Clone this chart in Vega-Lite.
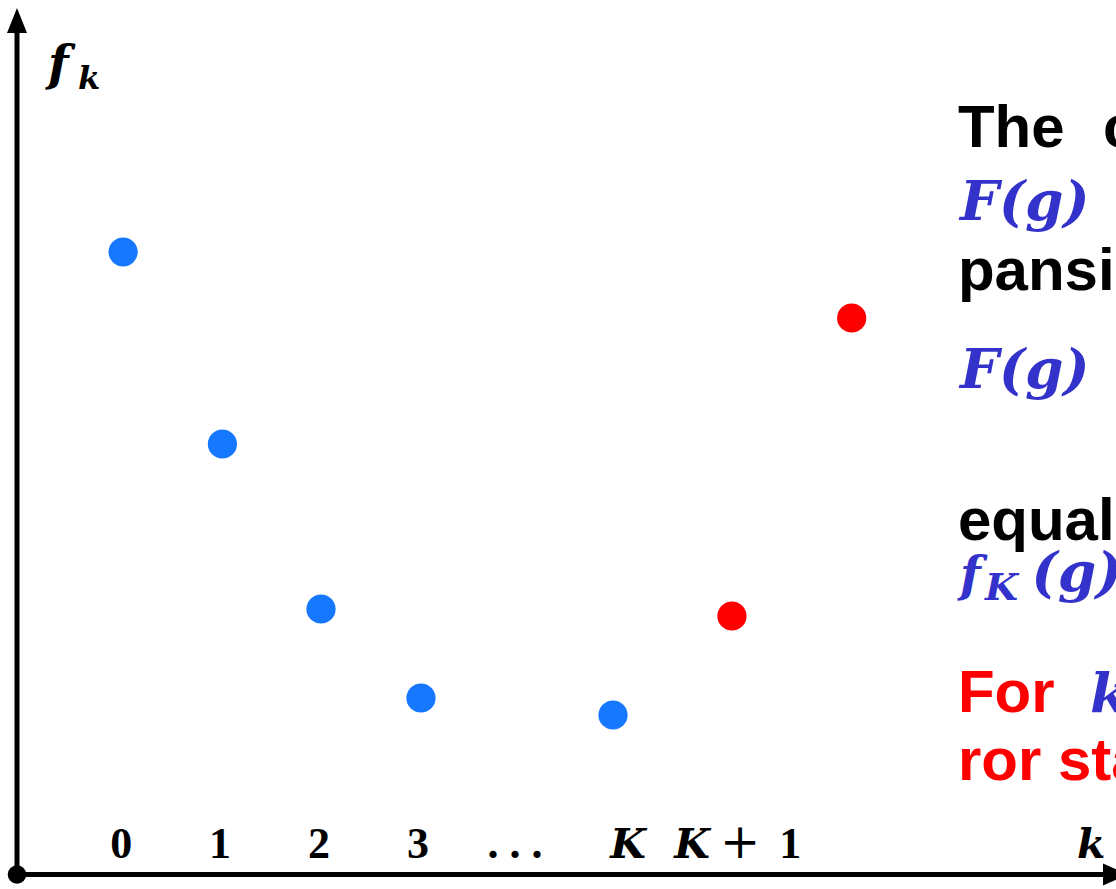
{
  "$schema": "https://vega.github.io/schema/vega-lite/v6.json",
  "width": 1116,
  "height": 889,
  "autosize": {"type": "none"},
  "padding": 0,
  "background": "white",
  "view": {"stroke": null},
  "config": {"text": {"baseline": "alphabetic"}},
  "data": {"values": [{}]},
  "datasets": {
    "points": [
      {"k": 0, "f": 6.225, "group": "computed"},
      {"k": 1, "f": 4.305, "group": "computed"},
      {"k": 1.993, "f": 2.655, "group": "computed"},
      {"k": 3, "f": 1.765, "group": "computed"},
      {"k": 4.934, "f": 1.595, "group": "computed"},
      {"k": 6.132, "f": 2.585, "group": "beyond"},
      {"k": 7.338, "f": 5.565, "group": "beyond"}
    ],
    "ticks": [
      {"label": "0", "k": -0.02},
      {"label": "1", "k": 0.976},
      {"label": "2", "k": 1.973},
      {"label": "3", "k": 2.97},
      {"label": ". . .", "k": 3.947},
      {"label": "1", "k": 6.72}
    ]
  },
  "layer": [
    {
      "mark": {"type": "rule", "color": "black", "strokeWidth": 5},
      "encoding": {
        "x": {"datum": -1.0688, "type": "quantitative", "scale": {"domain": [-1.24, 10], "nice": false, "zero": false}, "axis": null},
        "y": {"datum": 0, "type": "quantitative", "scale": {"domain": [-0.145, 8.745], "nice": false, "zero": false}, "axis": null},
        "y2": {"datum": 8.445}
      }
    },
    {
      "mark": {"type": "rule", "color": "black", "strokeWidth": 5},
      "encoding": {
        "x": {"datum": -1.0688, "type": "quantitative"},
        "x2": {"datum": 9.89},
        "y": {"datum": 0, "type": "quantitative"}
      }
    },
    {
      "mark": {"type": "point", "filled": true, "opacity": 1, "color": "black", "shape": "M0,-1L0.8,1L-0.8,1Z", "size": 625},
      "encoding": {
        "x": {"datum": -1.0688, "type": "quantitative"},
        "y": {"datum": 8.54, "type": "quantitative"}
      }
    },
    {
      "mark": {"type": "point", "filled": true, "opacity": 1, "color": "black", "shape": "M1,0L-1,-0.88L-1,0.88Z", "size": 625},
      "encoding": {
        "x": {"datum": 9.995, "type": "quantitative"},
        "y": {"datum": 0, "type": "quantitative"}
      }
    },
    {
      "mark": {"type": "point", "filled": true, "opacity": 1, "color": "black", "size": 346},
      "encoding": {
        "x": {"datum": -1.0688, "type": "quantitative"},
        "y": {"datum": 0, "type": "quantitative"}
      }
    },
    {
      "data": {"name": "points"},
      "mark": {"type": "point", "filled": true, "opacity": 1, "size": 855, "strokeWidth": 0},
      "encoding": {
        "x": {"field": "k", "type": "quantitative"},
        "y": {"field": "f", "type": "quantitative"},
        "color": {"field": "group", "type": "nominal", "scale": {"domain": ["computed", "beyond"], "range": ["#1677ff", "#ff0000"]}, "legend": null}
      }
    },
    {
      "data": {"name": "ticks"},
      "mark": {"type": "text", "font": "Liberation Serif", "fontWeight": "bold", "fontSize": 44, "align": "center", "color": "black"},
      "encoding": {
        "x": {"field": "k", "type": "quantitative"},
        "y": {"datum": 0.165, "type": "quantitative"},
        "text": {"field": "label"}
      }
    },
    {
      "mark": {"type": "text", "font": "DejaVu Serif", "fontWeight": "normal", "fontSize": 48, "align": "center", "color": "black"},
      "encoding": {
        "x": {"datum": 6.213, "type": "quantitative"},
        "y": {"datum": 0.165, "type": "quantitative"},
        "text": {"value": "+"}
      }
    },
    {
      "mark": {"type": "text", "font": "DejaVu Serif", "fontWeight": "bold", "fontStyle": "italic", "fontSize": 41, "align": "center", "color": "black"},
      "encoding": {
        "x": {"datum": 5.085, "type": "quantitative"},
        "y": {"datum": 0.165, "type": "quantitative"},
        "text": {"value": "K"}
      }
    },
    {
      "mark": {"type": "text", "font": "DejaVu Serif", "fontWeight": "bold", "fontStyle": "italic", "fontSize": 41, "align": "center", "color": "black"},
      "encoding": {
        "x": {"datum": 5.73, "type": "quantitative"},
        "y": {"datum": 0.165, "type": "quantitative"},
        "text": {"value": "K"}
      }
    },
    {
      "mark": {"type": "text", "font": "DejaVu Serif", "fontWeight": "bold", "fontStyle": "italic", "fontSize": 41, "align": "left", "color": "black"},
      "encoding": {
        "x": {"datum": 9.607, "type": "quantitative"},
        "y": {"datum": 0.165, "type": "quantitative"},
        "text": {"value": "k"}
      }
    },
    {
      "mark": {"type": "text", "font": "DejaVu Serif", "fontWeight": "bold", "fontStyle": "italic", "fontSize": 48, "align": "left", "color": "black"},
      "encoding": {
        "x": {"datum": -0.757, "type": "quantitative"},
        "y": {"datum": 7.945, "type": "quantitative"},
        "text": {"value": "f"}
      }
    },
    {
      "mark": {"type": "text", "font": "DejaVu Serif", "fontWeight": "bold", "fontStyle": "italic", "fontSize": 32, "align": "left", "color": "black"},
      "encoding": {
        "x": {"datum": -0.454, "type": "quantitative"},
        "y": {"datum": 7.855, "type": "quantitative"},
        "text": {"value": "k"}
      }
    },
    {
      "mark": {"type": "text", "font": "Liberation Sans", "fontWeight": "bold", "fontSize": 60, "align": "left", "color": "black"},
      "encoding": {
        "x": {"datum": 8.408, "type": "quantitative"},
        "y": {"datum": 7.275, "type": "quantitative"},
        "text": {"value": "The\u00a0\u00a0\u200ac"}
      }
    },
    {
      "mark": {"type": "text", "font": "DejaVu Serif", "fontWeight": "bold", "fontStyle": "italic", "fontSize": 55, "align": "left", "color": "#3333cc"},
      "encoding": {
        "x": {"datum": 8.428, "type": "quantitative"},
        "y": {"datum": 6.545, "type": "quantitative"},
        "text": {"value": "F(g)"}
      }
    },
    {
      "mark": {"type": "text", "font": "Liberation Sans", "fontWeight": "bold", "fontSize": 60, "align": "left", "color": "black"},
      "encoding": {
        "x": {"datum": 8.408, "type": "quantitative"},
        "y": {"datum": 5.845, "type": "quantitative"},
        "text": {"value": "pansi"}
      }
    },
    {
      "mark": {"type": "text", "font": "DejaVu Serif", "fontWeight": "bold", "fontStyle": "italic", "fontSize": 55, "align": "left", "color": "#3333cc"},
      "encoding": {
        "x": {"datum": 8.428, "type": "quantitative"},
        "y": {"datum": 4.865, "type": "quantitative"},
        "text": {"value": "F(g)"}
      }
    },
    {
      "mark": {"type": "text", "font": "Liberation Sans", "fontWeight": "bold", "fontSize": 60, "align": "left", "color": "black"},
      "encoding": {
        "x": {"datum": 8.408, "type": "quantitative"},
        "y": {"datum": 3.345, "type": "quantitative"},
        "text": {"value": "equal"}
      }
    },
    {
      "mark": {"type": "text", "font": "DejaVu Serif", "fontWeight": "bold", "fontStyle": "italic", "fontSize": 48, "align": "left", "color": "#3333cc"},
      "encoding": {
        "x": {"datum": 8.428, "type": "quantitative"},
        "y": {"datum": 2.835, "type": "quantitative"},
        "text": {"value": "f"}
      }
    },
    {
      "mark": {"type": "text", "font": "DejaVu Serif", "fontWeight": "bold", "fontStyle": "italic", "fontSize": 38, "align": "left", "color": "#3333cc"},
      "encoding": {
        "x": {"datum": 8.68, "type": "quantitative"},
        "y": {"datum": 2.745, "type": "quantitative"},
        "text": {"value": "K"}
      }
    },
    {
      "mark": {"type": "text", "font": "DejaVu Serif", "fontWeight": "bold", "fontStyle": "italic", "fontSize": 55, "align": "left", "color": "#3333cc"},
      "encoding": {
        "x": {"datum": 9.15, "type": "quantitative"},
        "y": {"datum": 2.835, "type": "quantitative"},
        "text": {"value": "(g)"}
      }
    },
    {
      "mark": {"type": "text", "font": "Liberation Sans", "fontWeight": "bold", "fontSize": 60, "align": "left", "color": "#ff0000"},
      "encoding": {
        "x": {"datum": 8.408, "type": "quantitative"},
        "y": {"datum": 1.625, "type": "quantitative"},
        "text": {"value": "For"}
      }
    },
    {
      "mark": {"type": "text", "font": "DejaVu Serif", "fontWeight": "bold", "fontStyle": "italic", "fontSize": 55, "align": "left", "color": "#3333cc"},
      "encoding": {
        "x": {"datum": 9.738, "type": "quantitative"},
        "y": {"datum": 1.625, "type": "quantitative"},
        "text": {"value": "k"}
      }
    },
    {
      "mark": {"type": "text", "font": "Liberation Sans", "fontWeight": "bold", "fontSize": 60, "align": "left", "color": "#ff0000"},
      "encoding": {
        "x": {"datum": 8.408, "type": "quantitative"},
        "y": {"datum": 0.945, "type": "quantitative"},
        "text": {"value": "ror sta"}
      }
    }
  ]
}
